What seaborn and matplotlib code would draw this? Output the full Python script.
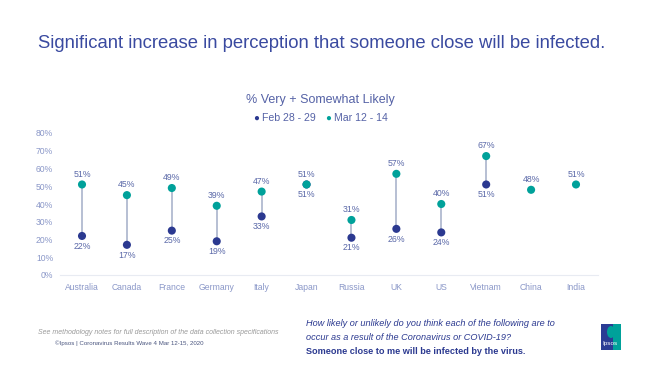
import pandas as pd
import numpy as np
import seaborn as sns
import matplotlib.pyplot as plt
from matplotlib.patches import Rectangle, Ellipse

countries = ["Australia", "Canada", "France", "Germany", "Italy", "Japan",
             "Russia", "UK", "US", "Vietnam", "China", "India"]
feb = [22, 17, 25, 19, 33, 51, 21, 26, 24, 51, None, None]
mar = [51, 45, 49, 39, 47, 51, 31, 57, 40, 67, 48, 51]
series_names = ["Feb 28 - 29", "Mar 12 - 14"]
yticks = [0, 10, 20, 30, 40, 50, 60, 70, 80]

navy = "#2b3990"
teal = "#00a19a"
label_col = "#5a68a8"
tick_col = "#8a97c8"

sns.set_style("white")
plt.rcParams["font.family"] = ["Liberation Sans", "DejaVu Sans"]

df = pd.DataFrame({"country": countries, "feb": feb, "mar": mar})
df["x"] = np.arange(len(countries))
long = df.melt(id_vars=["country", "x"], value_vars=["feb", "mar"],
               var_name="wave", value_name="pct").dropna()
long["wave"] = long["wave"].map({"feb": series_names[0], "mar": series_names[1]})

fig = plt.figure(figsize=(6.61, 3.68), dpi=100)
ax = fig.add_axes([60 / 661, 93 / 368, 538 / 661, 142 / 368])

# connector between the two waves
both = df.dropna()
ax.vlines(both["x"], both["feb"], both["mar"], color="#aab4cc", lw=1.2, zorder=1)
sns.scatterplot(data=long, x="x", y="pct", hue="wave",
                palette={series_names[0]: navy, series_names[1]: teal},
                s=34, edgecolor="none", legend=False, zorder=3, ax=ax, clip_on=False)

for _, r in df.iterrows():
    ax.text(r["x"], r["mar"] + 3.2, f"{int(r['mar'])}%", ha="center", va="bottom",
            fontsize=6.3, color=label_col)
    if pd.notna(r["feb"]):
        ax.text(r["x"], r["feb"] - 3.2, f"{int(r['feb'])}%", ha="center", va="top",
                fontsize=6.3, color=label_col)

ax.set_xlim(-0.49, len(countries) - 0.51)
ax.set_ylim(0, 80)
ax.set_xticks(df["x"])
ax.set_xticklabels(countries)
ax.set_yticks(yticks)
ax.set_yticklabels([f"{t}%" for t in yticks])
ax.tick_params(axis="both", length=0, labelsize=6.2, colors=tick_col)
ax.tick_params(axis="x", pad=6)
ax.tick_params(axis="y", pad=5)
ax.set_xlabel("")
ax.set_ylabel("")
sns.despine(ax=ax, left=True, top=True, right=True, bottom=False)
ax.spines["bottom"].set_color("#e8ebf2")

fig.text(38 / 661, 1 - 43 / 368,
         "Significant increase in perception that someone close will be infected.",
         fontsize=13.3, color="#3a4aa0", va="center", ha="left")
fig.text(320 / 661, 1 - 100 / 368, "% Very + Somewhat Likely",
         fontsize=9, color="#5562a6", ha="center", va="center")
fig.text(256 / 661, 1 - 118 / 368, "●", fontsize=7, color=navy, ha="center", va="center")
fig.text(262 / 661, 1 - 118 / 368, series_names[0], fontsize=7.6, color="#5562a6",
         ha="left", va="center")
fig.text(328 / 661, 1 - 118 / 368, "●", fontsize=7, color=teal, ha="center", va="center")
fig.text(334 / 661, 1 - 118 / 368, series_names[1], fontsize=7.6, color="#5562a6",
         ha="left", va="center")

fig.text(38 / 661, 1 - 332 / 368,
         "See methodology notes for full description of the data collection specifications",
         fontsize=5.0, style="italic", color="#9a9a9a", va="center")
fig.text(55 / 661, 1 - 343 / 368,
         "©Ipsos | Coronavirus Results Wave 4 Mar 12-15, 2020",
         fontsize=4.4, color="#4a557f", va="center")

fig.text(306 / 661, 1 - 324 / 368,
         "How likely or unlikely do you think each of the following are to",
         fontsize=6.6, style="italic", color="#2b3990", va="center")
fig.text(306 / 661, 1 - 337 / 368,
         "occur as a result of the Coronavirus or COVID-19?",
         fontsize=6.6, style="italic", color="#2b3990", va="center")
fig.text(306 / 661, 1 - 351 / 368,
         "Someone close to me will be infected by the virus.",
         fontsize=6.6, weight="bold", color="#2b3990", va="center")

# Ipsos logo block
fig.patches.append(Rectangle((601 / 661, 1 - 350 / 368), 20 / 661, 26 / 368,
                             transform=fig.transFigure, facecolor="#2a3c94",
                             edgecolor="none"))
fig.patches.append(Rectangle((613 / 661, 1 - 350 / 368), 8 / 661, 26 / 368,
                             transform=fig.transFigure, facecolor=teal,
                             edgecolor="none"))
fig.patches.append(Ellipse((611 / 661, 1 - 332 / 368), 8 / 661, 12 / 368,
                           transform=fig.transFigure, facecolor=teal,
                           edgecolor="none"))
fig.text(610 / 661, 1 - 343 / 368, "Ipsos", fontsize=4.6, color="white",
         ha="center", va="center")

fig.savefig("out.png", dpi=100)
